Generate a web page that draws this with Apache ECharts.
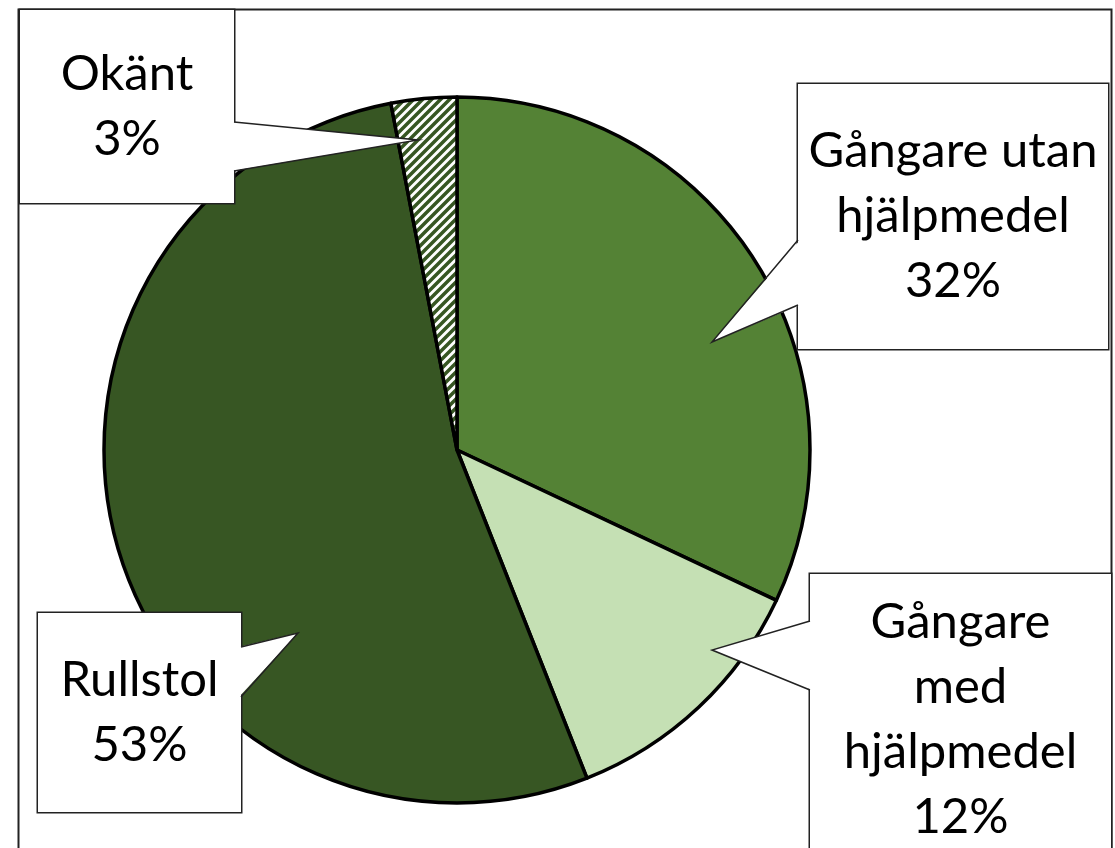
<!DOCTYPE html>
<html>
<head>
<meta charset="utf-8">
<script src="https://cdn.jsdelivr.net/npm/echarts@6/dist/echarts.min.js"></script>
<style>
  html, body { margin: 0; padding: 0; background: #fff; }
  #chart { width: 1115px; height: 848px; }
</style>
</head>
<body>
<div id="chart"></div>
<script>
// data
const categories = ["Gångare utan hjälpmedel", "Gångare med hjälpmedel", "Rullstol", "Okänt"];
const shares = [32, 12, 53, 3];
const labelLines = [
  ["Gångare utan", "hjälpmedel"],
  ["Gångare", "med", "hjälpmedel"],
  ["Rullstol"],
  ["Okänt"]
];

// callout boxes: [left, top, width, height], pointer: base y1, base y2 on the side, tip
const boxes = [
  { rect: [798, 84, 310, 265], side: "left", base: [240, 305], tip: [712, 342] },
  { rect: [810, 574, 301, 292], side: "left", base: [621, 690], tip: [712, 650] },
  { rect: [38, 613, 203, 199], side: "right", base: [647, 697], tip: [298, 633] },
  { rect: [20, 10, 214, 193], side: "right", base: [122, 171], tip: [418, 140] }
];

const colors = ["#548235", "#C5E0B4", "#375623"];
const lineH = 65;

function hatch() {
  const c = document.createElement("canvas");
  c.width = 9; c.height = 9;
  const g = c.getContext("2d");
  g.fillStyle = "#fff";
  g.fillRect(0, 0, 9, 9);
  g.strokeStyle = "#375623";
  g.lineWidth = 3.5;
  g.beginPath();
  g.moveTo(-1, 10); g.lineTo(10, -1);
  g.moveTo(-5.5, 5.5); g.lineTo(5.5, -5.5);
  g.moveTo(3.5, 14.5); g.lineTo(14.5, 3.5);
  g.stroke();
  return c;
}

const myChart = echarts.init(document.getElementById("chart"));

const pieData = categories.map((name, i) => {
  const b = boxes[i];
  const nLines = labelLines[i].length + 1;
  const pad = (b.rect[3] - nLines * lineH) / 2;
  return {
    name: name,
    value: shares[i],
    itemStyle: {
      color: i < 3 ? colors[i] : { image: hatch(), repeat: "repeat" }
    },
    label: {
      width: b.rect[2],
      padding: [pad, 0, pad, 0]
    }
  };
});

const graphics = [
  {
    type: "rect",
    shape: { x: 18.5, y: 9.5, width: 1093, height: 900 },
    style: { fill: "none", stroke: "#222", lineWidth: 2 },
    z: 0,
    silent: true
  }
];
boxes.forEach((b) => {
  const edge = b.side === "left" ? b.rect[0] : b.rect[0] + b.rect[2];
  const inner = b.side === "left" ? edge + 2 : edge - 2;
  graphics.push({
    type: "polygon",
    shape: { points: [[inner, b.base[0]], b.tip, [inner, b.base[1]]] },
    style: { fill: "#fff", stroke: null },
    z: 100,
    silent: true
  });
  graphics.push({
    type: "polyline",
    shape: { points: [[edge, b.base[0]], b.tip, [edge, b.base[1]]] },
    style: { fill: null, stroke: "#222", lineWidth: 1.5 },
    z: 101,
    silent: true
  });
});

const option = {
  backgroundColor: "#fff",
  animation: false,
  graphic: graphics,
  series: [
    {
      type: "pie",
      center: [457, 450],
      radius: 353,
      startAngle: 90,
      clockwise: true,
      avoidLabelOverlap: false,
      itemStyle: {
        borderColor: "#000",
        borderWidth: 3.5
      },
      labelLine: { show: false },
      label: {
        show: true,
        position: "outside",
        formatter: function (p) {
          return labelLines[p.dataIndex].join("\n") + "\n" + p.value + "%";
        },
        fontFamily: "Lato, 'Open Sans', sans-serif",
        fontSize: 49,
        lineHeight: lineH,
        color: "#000",
        align: "center",
        backgroundColor: "#fff",
        borderColor: "#222",
        borderWidth: 1.5
      },
      labelLayout: function (params) {
        const r = boxes[params.dataIndex].rect;
        return {
          x: r[0] + r[2] / 2,
          y: r[1] + r[3] / 2,
          align: "center",
          verticalAlign: "middle"
        };
      },
      data: pieData
    }
  ]
};

myChart.setOption(option);
</script>
</body>
</html>
